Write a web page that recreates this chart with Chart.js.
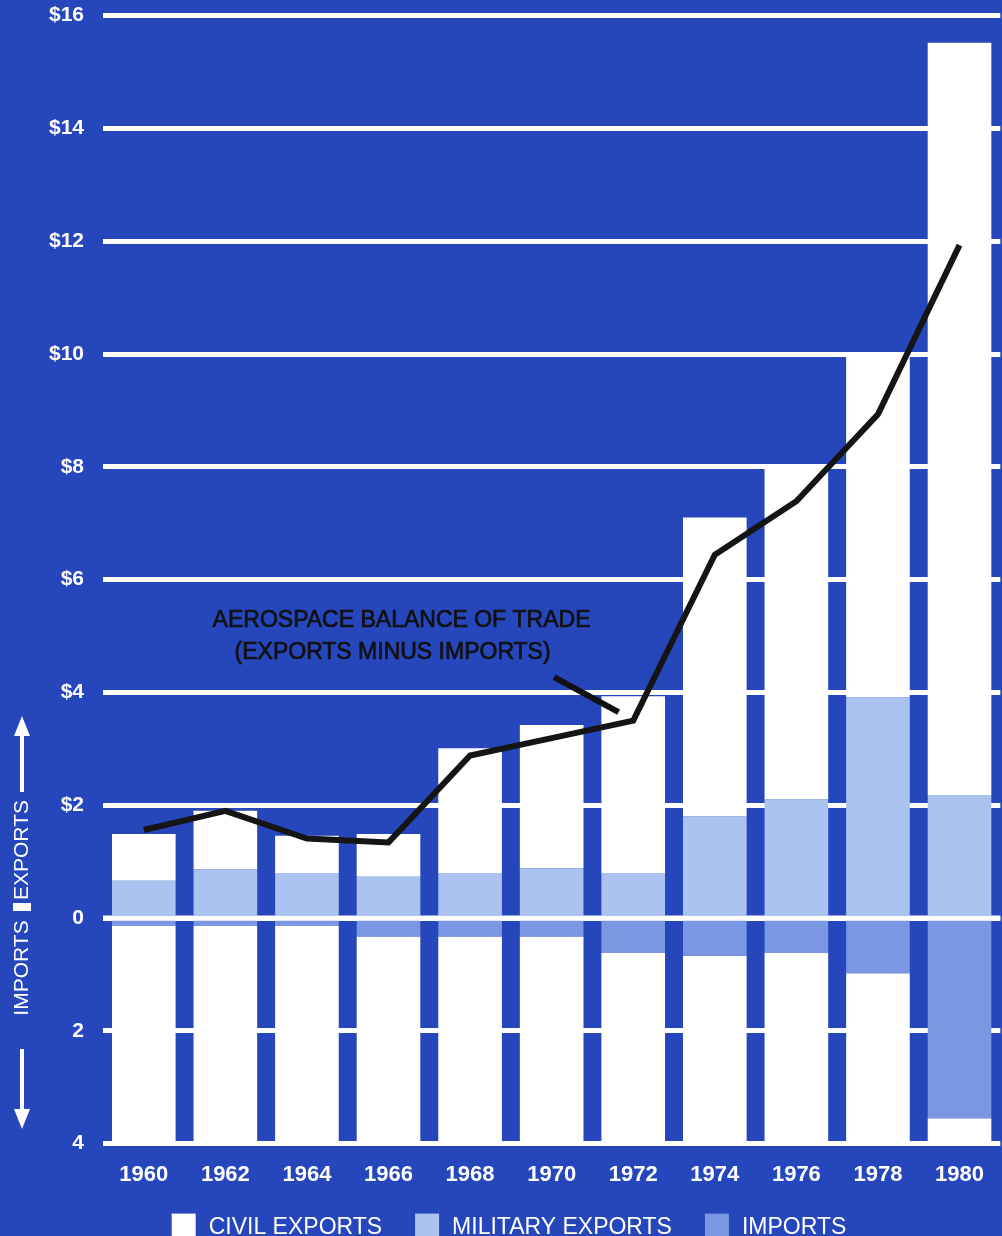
<!DOCTYPE html>
<html>
<head>
<meta charset="utf-8">
<script src="https://cdn.jsdelivr.net/npm/chart.js@4.4.1/dist/chart.umd.min.js"></script>
<style>
  html, body { margin: 0; padding: 0; background: #2646bc; overflow: hidden; }
  #wrap { width: 1002px; height: 1252px; margin-top: -16px; }
</style>
</head>
<body>
<div id="wrap"><canvas id="tradeChart"></canvas></div>
<script>
// values in billions of dollars
var years = ['1960', '1962', '1964', '1966', '1968', '1970', '1972', '1974', '1976', '1978', '1980'];
var civilExports    = [0.83, 1.04, 0.66, 0.76, 2.21, 2.54, 3.13, 5.30, 5.95, 6.04, 13.34];
var militaryExports = [0.66, 0.86, 0.80, 0.73, 0.80, 0.88, 0.80, 1.80, 2.10, 3.91, 2.18];
var imports         = [0.14, 0.14, 0.14, 0.33, 0.33, 0.33, 0.62, 0.67, 0.62, 0.98, 3.55];
var balance         = [1.56, 1.90, 1.41, 1.34, 2.88, 3.19, 3.50, 6.44, 7.39, 8.93, 11.93];
var yMin = -4, yMax = 16, yStep = 2;

var BLUE = '#2646bc';
var FONT = '"Liberation Sans", Arial, Helvetica, sans-serif';

// bars built as floating [from, to] pairs
var civilBars = [], militaryBars = [], importBars = [], panelBars = [];
for (var i = 0; i < years.length; i++) {
  militaryBars.push([0, militaryExports[i]]);
  civilBars.push([militaryExports[i], militaryExports[i] + civilExports[i]]);
  importBars.push([-imports[i], 0]);
  panelBars.push([yMin, -imports[i]]);
}

function tickLabel(v) {
  if (v > 0) return '$' + v;
  return String(Math.abs(v));
}

var backgroundPlugin = {
  id: 'bluePaper',
  beforeDraw: function(chart) {
    var ctx = chart.ctx;
    ctx.save();
    ctx.fillStyle = BLUE;
    ctx.fillRect(0, 0, chart.width, chart.height);
    ctx.restore();
  }
};

var decorPlugin = {
  id: 'decor',
  afterDatasetsDraw: function(chart) {
    var ctx = chart.ctx;
    var xs = chart.scales.x, ys = chart.scales.y;
    var area = chart.chartArea;
    var p0 = ys.getPixelForValue(0);

    // zero line sits on top of the bars
    ctx.save();
    ctx.strokeStyle = '#ffffff';
    ctx.lineWidth = 5;
    ctx.beginPath();
    ctx.moveTo(area.left, p0);
    ctx.lineTo(area.right, p0);
    ctx.stroke();

    // annotation for the balance line
    ctx.fillStyle = '#111111';
    ctx.strokeStyle = '#111111';
    ctx.lineWidth = 0.7;
    ctx.font = '23px ' + FONT;
    ctx.textAlign = 'center';
    ctx.textBaseline = 'middle';
    var t1x = xs.getPixelForValue(3.16), t1y = ys.getPixelForValue(5.28);
    var t2x = xs.getPixelForValue(3.05), t2y = ys.getPixelForValue(4.70);
    ctx.fillText('AEROSPACE BALANCE OF TRADE', t1x, t1y);
    ctx.strokeText('AEROSPACE BALANCE OF TRADE', t1x, t1y);
    ctx.fillText('(EXPORTS MINUS IMPORTS)', t2x, t2y);
    ctx.strokeText('(EXPORTS MINUS IMPORTS)', t2x, t2y);
    ctx.lineWidth = 6;
    ctx.beginPath();
    ctx.moveTo(xs.getPixelForValue(5.03), ys.getPixelForValue(4.27));
    ctx.lineTo(xs.getPixelForValue(5.82), ys.getPixelForValue(3.65));
    ctx.stroke();

    // axis title: IMPORTS | EXPORTS with arrows
    var cx = 22;
    ctx.fillStyle = '#ffffff';
    ctx.strokeStyle = '#ffffff';
    ctx.font = '21px ' + FONT;
    ctx.save();
    ctx.translate(cx, p0 - 68);
    ctx.rotate(-Math.PI / 2);
    ctx.fillText('EXPORTS', 0, 0);
    ctx.restore();
    ctx.save();
    ctx.translate(cx, p0 + 50);
    ctx.rotate(-Math.PI / 2);
    ctx.fillText('IMPORTS', 0, 0);
    ctx.restore();
    ctx.fillRect(cx - 9, p0 - 15, 18, 8);

    ctx.lineWidth = 4;
    ctx.beginPath();
    ctx.moveTo(cx, p0 - 126);
    ctx.lineTo(cx, p0 - 190);
    ctx.moveTo(cx, p0 + 131);
    ctx.lineTo(cx, p0 + 196);
    ctx.stroke();
    ctx.beginPath();
    ctx.moveTo(cx, p0 - 202);
    ctx.lineTo(cx - 8, p0 - 182);
    ctx.lineTo(cx + 8, p0 - 182);
    ctx.closePath();
    ctx.moveTo(cx, p0 + 211);
    ctx.lineTo(cx - 8, p0 + 191);
    ctx.lineTo(cx + 8, p0 + 191);
    ctx.closePath();
    ctx.fill();
    ctx.restore();
  },
  afterDraw: function(chart) {
    // legend row under the year labels
    var ctx = chart.ctx;
    var area = chart.chartArea;
    var items = chart.data.datasets.slice(0, 3);
    var boxW = 24, boxH = 26, textGap = 13, itemGap = 33;
    ctx.save();
    ctx.font = '23px ' + FONT;
    ctx.textBaseline = 'middle';
    ctx.textAlign = 'left';
    var total = 0;
    items.forEach(function(ds, k) {
      total += boxW + textGap + ctx.measureText(ds.label).width;
      if (k < items.length - 1) total += itemGap;
    });
    var x = 509 - total / 2;
    var top = area.bottom + 70;
    items.forEach(function(ds) {
      ctx.fillStyle = ds.backgroundColor;
      ctx.fillRect(x, top, boxW, boxH);
      x += boxW + textGap;
      ctx.fillStyle = '#ffffff';
      ctx.fillText(ds.label, x, top + 14);
      x += ctx.measureText(ds.label).width + itemGap;
    });
    ctx.restore();
  }
};

var ctx = document.getElementById('tradeChart');

var chart = new Chart(ctx, {
  type: 'bar',
  data: {
    labels: years,
    datasets: [
      {
        label: 'CIVIL EXPORTS',
        data: civilBars,
        backgroundColor: '#ffffff',
        borderWidth: 0,
        grouped: false,
        order: 2
      },
      {
        label: 'MILITARY EXPORTS',
        data: militaryBars,
        backgroundColor: '#abc3f1',
        borderWidth: 0,
        grouped: false,
        order: 1
      },
      {
        label: 'IMPORTS',
        data: importBars,
        backgroundColor: '#7a97e3',
        borderWidth: 0,
        grouped: false,
        order: 1
      },
      {
        label: 'panel',
        data: panelBars,
        backgroundColor: '#ffffff',
        borderWidth: 0,
        grouped: false,
        order: 3
      },
      {
        type: 'line',
        label: 'balance',
        data: balance,
        borderColor: '#151515',
        borderWidth: 6,
        pointRadius: 0,
        tension: 0,
        fill: false,
        order: 0
      }
    ]
  },
  options: {
    responsive: true,
    maintainAspectRatio: false,
    animation: false,
    layout: {
      padding: { top: 14, right: 0, left: 0, bottom: 30 }
    },
    datasets: {
      bar: { categoryPercentage: 1.0, barPercentage: 0.78 }
    },
    scales: {
      x: {
        grid: { display: false, drawTicks: false },
        border: { display: false },
        ticks: {
          color: '#ffffff',
          padding: 18,
          font: { family: FONT, size: 22, weight: 'bold' }
        }
      },
      y: {
        min: yMin,
        max: yMax,
        afterFit: function(scale) { scale.width = 103; },
        grid: { color: '#ffffff', lineWidth: 5, drawTicks: false },
        border: { display: false },
        ticks: {
          stepSize: yStep,
          color: '#ffffff',
          padding: 19,
          font: { family: FONT, size: 21, weight: 'bold' },
          callback: function(v) { return tickLabel(v); }
        }
      }
    },
    plugins: {
      tooltip: { enabled: false },
      legend: { display: false }
    }
  },
  plugins: [backgroundPlugin, decorPlugin]
});
</script>
</body>
</html>
